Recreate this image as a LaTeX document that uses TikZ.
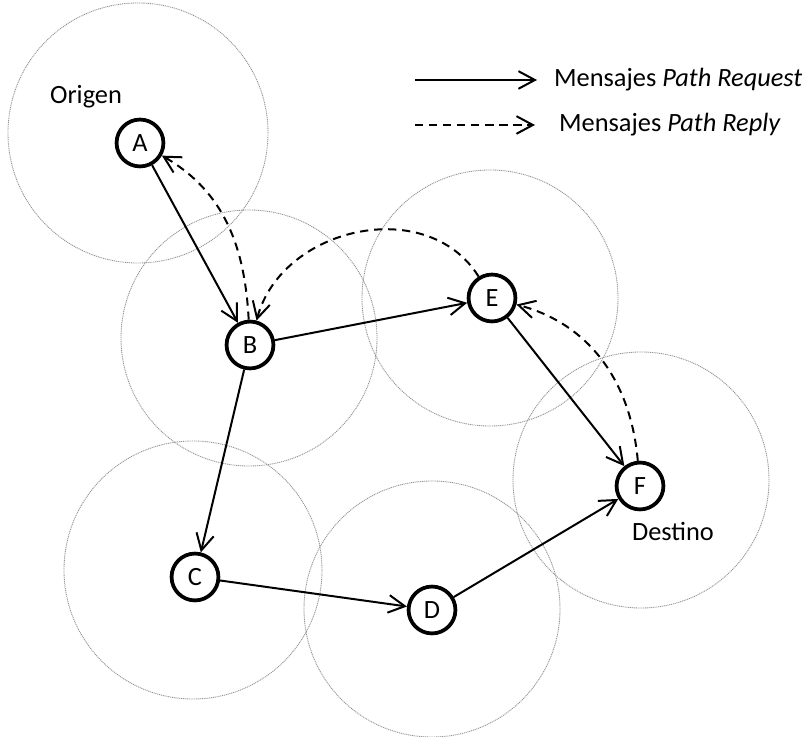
\documentclass[tikz,border=0pt]{standalone}
\usepackage{fontspec}
\setmainfont{Carlito}
\usetikzlibrary{arrows.meta, graphs}

\begin{document}
\begin{tikzpicture}[x=0.03cm, y=0.03cm,
    >={Straight Barb[length=14pt, width=15pt]},
    every node/.style={font=\fontsize{22.5}{27}\selectfont},
    station/.style={draw, circle, line width=3.2pt, minimum size=40pt, inner sep=0pt},
    coverage/.style={draw=gray!85, line width=0.75pt, dash pattern=on 0.9pt off 0.7pt},
    reply/.style={dash pattern=on 7pt off 5pt}]
    \useasboundingbox (0,0) rectangle (809,737);

    % radio range of every station
    \draw[coverage] (138,604) circle (130);
    \draw[coverage] (249,399) circle (128);
    \draw[coverage] (490,439) circle (128);
    \draw[coverage] (641,257) circle (128);
    \draw[coverage] (193,167) circle (129);
    \draw[coverage] (432,128) circle (128);

    \node[station] (node A) at (140,594) {A};
    \node[station] (node B) at (250,392) {B};
    \node[station] (node C) at (195,160) {C};
    \node[station] (node D) at (432,127) {D};
    \node[station] (node E) at (492,439) {E};
    \node[station] (node F) at (640,251) {F};
    \node at (86,640) {Origen};
    \node at (673,206) {Destino};

    % legend
    \coordinate (request start) at (415,657);
    \coordinate (request end) at (537,657);
    \coordinate (reply start) at (415,612);
    \coordinate (reply end) at (535,612);
    \node[anchor=west] (request text) at (550,657) {Mensajes \textit{Path Request}};
    \node[anchor=west] (reply text) at (555,612) {Mensajes \textit{Path Reply}};

    \graph[edges={line width=1.7pt}]{(node A) -> (node B) -> (node E) -> (node F);
    (node B) -> (node C) -> (node D) -> (node F);
    (request start) -> (request end)};
    \graph[edges={line width=1.7pt, reply}]{(node F) ->[out=95, in=-15] (node E) ->[out=122, in=75, looseness=1.1] (node B) ->[out=93, in=-30] (node A);
    (reply start) -> (reply end)};
\end{tikzpicture}
\end{document}
